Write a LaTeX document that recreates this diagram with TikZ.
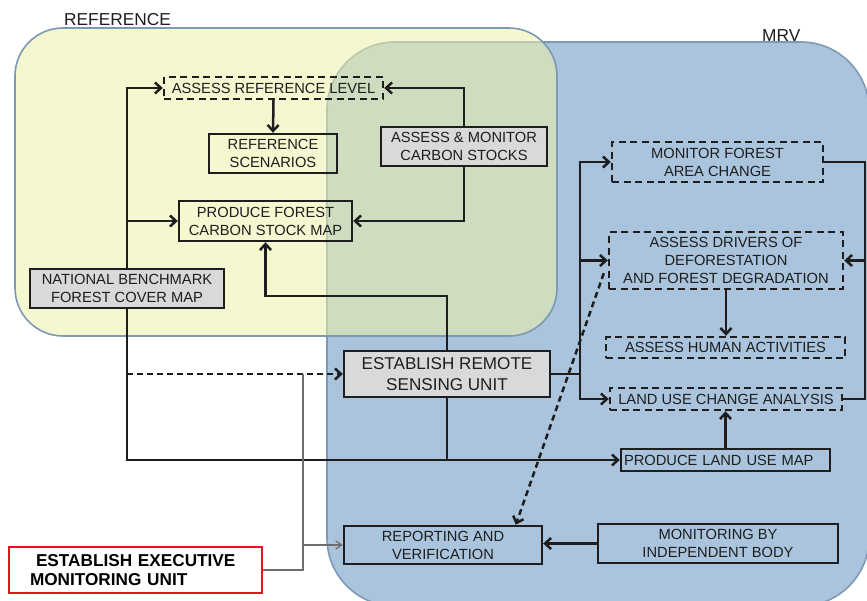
\documentclass[tikz,border=0pt]{standalone}
\usepackage{fontspec}
\setmainfont{Liberation Sans}
\usetikzlibrary{arrows.meta,calc}
\definecolor{regblue}{RGB}{169,196,220}
\definecolor{regyel}{RGB}{237,242,170}
\definecolor{regedge}{RGB}{125,153,180}
\definecolor{boxgray}{RGB}{217,217,217}
\definecolor{txt}{RGB}{30,30,30}
\definecolor{exred}{RGB}{232,20,28}
\definecolor{thinline}{RGB}{110,110,110}
\begin{document}
\begin{tikzpicture}[x=1pt,y=-1pt,
  box/.style={draw=txt, line width=2.4pt, inner sep=0pt, align=center, text=txt,
    font=\fontsize{14.7}{18}\selectfont},
  dbox/.style={box, dash pattern=on 7pt off 4.5pt},
  gbox/.style={box, fill=boxgray},
  conn/.style={draw=txt, line width=2.5pt, -{Straight Barb[length=6pt,width=11pt]}},
  plainline/.style={draw=txt, line width=2.5pt},
  gline/.style={draw=thinline, line width=1.2pt},
  garrow/.style={gline, -{Straight Barb[length=6pt,width=8pt]}},
  region/.style={draw=regedge, line width=1.6pt},
  rlabel/.style={anchor=base west, inner sep=0pt, text=txt, font=\fontsize{17.3}{20}\selectfont},
]
\useasboundingbox (0,0) rectangle (867,600);
\fill[white] (0,0) rectangle (867,600);
% regions
\begin{scope}
\clip (0,0) rectangle (867,600);
\path[region, fill=regblue, rounded corners=68pt] (327,42) rectangle (869,606);
\path[region, fill=regyel, fill opacity=0.55, rounded corners=48pt] (15,28) rectangle (557,336);
\end{scope}
\node[rlabel] (lref) at (64,25) {REFERENCE};
\node[rlabel] (lmrv) at (762,41) {MRV};

% boxes
\node[dbox, minimum width=219pt, minimum height=22pt] (arl) at (273.5,88) {ASSESS REFERENCE LEVEL};
\node[box, minimum width=128pt, minimum height=39pt] (rs) at (273,153.5) {REFERENCE\\SCENARIOS};
\node[gbox, minimum width=166pt, minimum height=39pt] (amcs) at (464,146.5) {ASSESS \& MONITOR\\CARBON STOCKS};
\node[box, minimum width=173pt, minimum height=40pt] (pfcsm) at (265.5,221) {PRODUCE FOREST\\CARBON STOCK MAP};
\node[gbox, minimum width=194pt, minimum height=39pt] (nbfcm) at (127,288.5) {NATIONAL BENCHMARK\\FOREST COVER MAP};
\node[gbox, minimum width=206pt, minimum height=46pt, font=\fontsize{17.1}{21}\selectfont] (ersu) at (447,374) {ESTABLISH REMOTE\\SENSING UNIT};
\node[box, minimum width=198pt, minimum height=38pt] (rv) at (443,545) {REPORTING AND\\VERIFICATION};
\node[box, minimum width=240pt, minimum height=39pt] (mib) at (718,543.5) {MONITORING BY\\INDEPENDENT BODY};
\node[box, inner xsep=3pt, text width=203pt, align=left, minimum height=22pt] (plum) at (725.5,460) {PRODUCE LAND USE MAP};
\node[dbox, minimum width=232pt, minimum height=22pt] (luca) at (726,399) {LAND USE CHANGE ANALYSIS};
\node[dbox, minimum width=239pt, minimum height=21pt] (aha) at (725.5,347.5) {ASSESS HUMAN ACTIVITIES};
\node[dbox, minimum width=234pt, minimum height=57pt] (addfd) at (726,260.5) {ASSESS DRIVERS OF\\DEFORESTATION\\AND FOREST DEGRADATION};
\node[dbox, minimum width=211pt, minimum height=40pt] (mfac) at (717.5,162) {MONITOR FOREST\\AREA CHANGE};
\node[draw=exred, line width=2.2pt, fill=white, inner ysep=0pt, inner xsep=21pt, text width=211pt,
  minimum height=46pt, align=left, text=black, font=\bfseries\fontsize{17.2}{19.5}\selectfont]
  (eemu) at (135.5,570) {\hspace*{6pt}ESTABLISH EXECUTIVE\\MONITORING UNIT};

% helper coordinates
\coordinate (j1) at (447,296);
\coordinate (bus) at (580,0);
\coordinate (rbus) at (865,0);
\coordinate (g1) at (303,0);

% reference connectors
\draw[conn] (nbfcm.north) |- (arl.west);
\draw[conn] (nbfcm.north |- pfcsm.west) -- (pfcsm.west);
\draw[conn] (arl.south) -- (rs.north);
\draw[conn] (amcs.north) |- (arl.east);
\draw[conn] (amcs.south) |- (pfcsm.east);
\draw[conn] (ersu.north) -- (j1) -| (pfcsm.south);
\draw[conn] (nbfcm.south) |- (plum.west);
\draw[plainline] (ersu.south) -- (ersu.south |- plum.west);
\draw[conn, dash pattern=on 6pt off 4pt] (nbfcm.south |- ersu.west) -- (ersu.west);

% executive unit
\draw[gline] (eemu.east) -| (g1 |- ersu.west);
\draw[garrow] (g1 |- rv.west) -- (rv.west);

% MRV connectors
\draw[plainline] (ersu.east) -- (bus |- ersu.east);
\draw[conn] (bus |- ersu.east) |- (mfac.west);
\draw[conn] (bus |- addfd.west) -- (addfd.west);
\draw[conn] (bus |- ersu.east) |- (luca.west);
\draw[conn] (addfd.south) -- (addfd.south |- aha.north);
\draw[conn] (plum.north) -- (plum.north |- luca.south);
\draw[plainline] (mfac.east) -| (rbus |- luca.east) -- (luca.east);
\draw[conn] (rbus |- addfd.east) -- (addfd.east);
\draw[conn, dash pattern=on 6pt off 4pt] ([xshift=-4pt,yshift=17pt]addfd.south west) -- ([xshift=173pt]rv.north west);
\draw[conn] (mib.west) -- (mib.west -| rv.east);
\end{tikzpicture}
\end{document}
